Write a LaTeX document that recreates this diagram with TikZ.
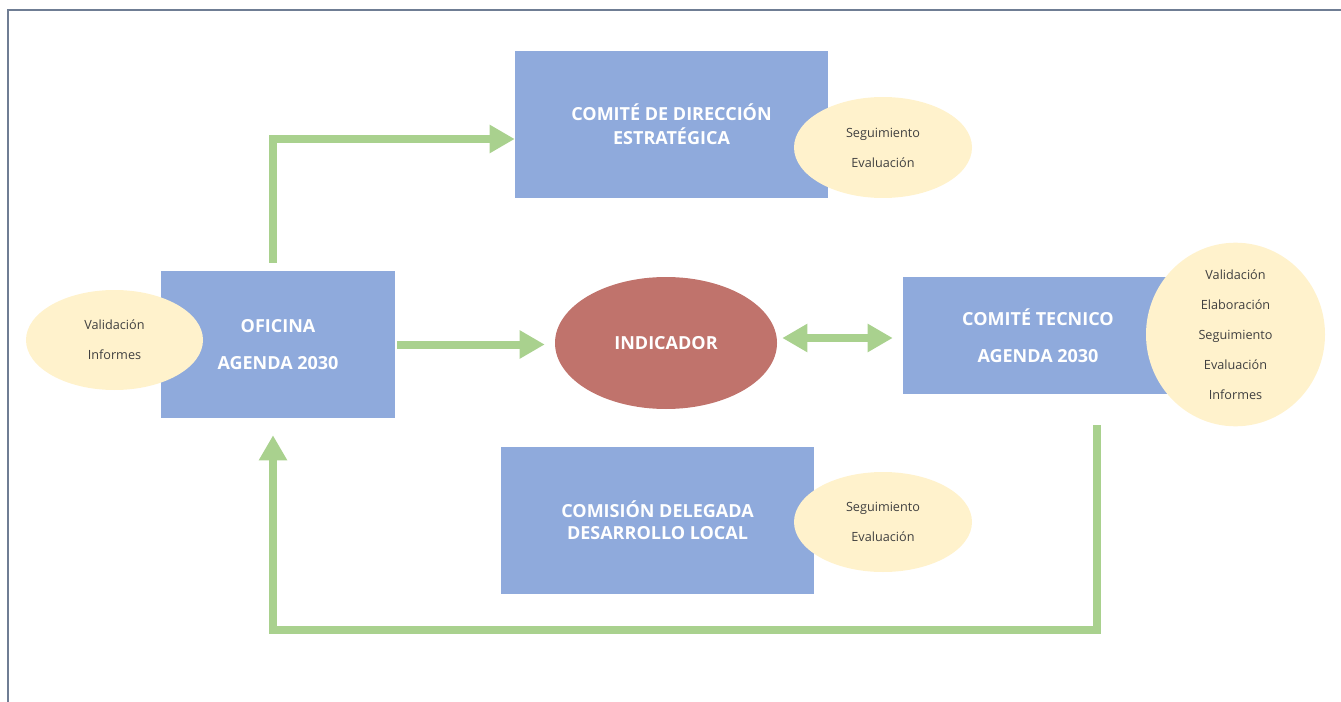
\documentclass[tikz,border=0pt]{standalone}
\usepackage{fontspec}
\setmainfont{Open Sans}
\usepackage{xcolor}
\usetikzlibrary{arrows.meta, shapes.geometric, calc}
\definecolor{unitblue}{HTML}{8FAADC}
\definecolor{taskyellow}{HTML}{FFF2CC}
\definecolor{corered}{HTML}{C0736C}
\definecolor{flowgreen}{HTML}{A9D18E}
\definecolor{framegray}{HTML}{6F7D94}
\definecolor{tasktext}{HTML}{404040}
\tikzset{
    unit/.style={rectangle, fill=unitblue, text=white, align=center, inner sep=0pt, minimum width=234.75pt, minimum height=110.25pt},
    task/.style={ellipse, fill=taskyellow, text=tasktext, align=center, inner sep=0pt, minimum width=133.5pt, minimum height=75pt,
        font={\fontsize{9.5pt}{22.5pt}\selectfont}},
    core/.style={ellipse, fill=corered, text=white, inner sep=0pt, minimum width=166.5pt, minimum height=99pt,
        font={\fontsize{13.5pt}{16pt}\selectfont\bfseries}},
    flow/.style={-{Triangle[length=18.75pt, width=20pt]}, line width=6pt, draw=flowgreen},
    both/.style={{Triangle[length=18.75pt, width=20pt]}-{Triangle[length=18.75pt, width=20pt]}, line width=6pt, draw=flowgreen}
}
\begin{document}
\begin{tikzpicture}[x=0.75pt, y=-0.75pt]
    \useasboundingbox (0,0) rectangle (1341,702);
    \draw[framegray, line width=1.5pt] (8,702) -- (8,10) -- (1341,10);

    % organos
    \node[unit, font={\fontsize{13.5pt}{18pt}\selectfont\bfseries}] (cde) at (671.5,124.5) {COMITÉ DE DIRECCIÓN\\ESTRATÉGICA};
    \node[unit, minimum width=175.5pt, font={\fontsize{13.5pt}{28pt}\selectfont\bfseries}] (ofi) at (278,344.5) {OFICINA\\AGENDA 2030};
    \node[unit, minimum width=202.5pt, minimum height=87.75pt, font={\fontsize{13.5pt}{28pt}\selectfont\bfseries}] (ctec) at (1038,335.5) {COMITÉ TECNICO\\AGENDA 2030};
    \node[unit, font={\fontsize{13.5pt}{16.5pt}\selectfont\bfseries}] (cdl) at (657.5,520.5) {COMISIÓN DELEGADA\\DESARROLLO LOCAL};
    \node[core] (ind) at (666,343) {INDICADOR};

    % funciones
    \node[task, minimum height=75.75pt] (cdeTasks) at (883,147.5) {Seguimiento\\Evaluación};
    \node[task, minimum width=132.75pt] (ofiTasks) at (114.5,340) {Validación\\Informes};
    \node[task, minimum width=134.25pt, minimum height=129.75pt] (ctecTasks) at (1235.5,334.5) {Validación\\Elaboración\\Seguimiento\\Evaluación\\Informes};
    \node[task] (cdlTasks) at (883,522) {Seguimiento\\Evaluación};

    % flujos
    \draw[flow] ($(ofi.north)+(-5,-8)$) |- ($(cde.west)+(0,14.5)$);
    \draw[flow] ($(ofi.east)+(2,0)$) -- ($(ofi.east -| ind.west)+(-10,0)$);
    \draw[both] ($(ind.east)+(5,-5)$) -- ($(ind.east -| ctec.west)+(-10,-5)$);
    \draw[flow] ($(ctec.south)+(59,31)$) |- ($(ofi.south)+(-5,212)$) -- ($(ofi.south)+(-5,17)$);
\end{tikzpicture}
\end{document}
